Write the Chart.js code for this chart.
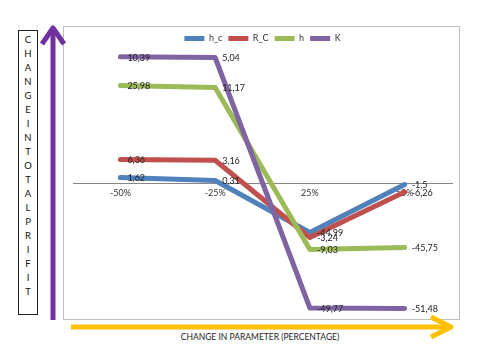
<!DOCTYPE html>
<html>
<head>
<meta charset="utf-8">
<script src="https://cdn.jsdelivr.net/npm/chart.js@4.4.1/dist/chart.umd.min.js"></script>
<style>
  body { margin: 0; background: #fff; }
  #wrap { position: relative; width: 482px; height: 351px; overflow: hidden; font-family: Lato, 'Open Sans', sans-serif; }
  #frame { position: absolute; left: 63px; top: 26px; width: 397px; height: 294px; border: 1px solid #bfbfbf; box-sizing: border-box; }
  #ylab { position: absolute; left: 18px; top: 30px; width: 20px; height: 285px; border: 1px solid #222; box-sizing: border-box; padding-top: 2px; color: #111; }
  #ylab div { width: 8px; margin: 0 auto; font-size: 9.5px; line-height: 14px; text-align: center; word-break: break-all; }
  #xlab { position: absolute; left: 160px; top: 331px; width: 200px; text-align: center; font-size: 8.5px; line-height: 12px; color: #222; }
  canvas, svg { position: absolute; left: 0; top: 0; }
</style>
</head>
<body>
<div id="wrap">
  <div id="frame"></div>
  <div id="ylab"><div>CHANGEINTOTALPRIFIT</div></div>
  <div id="xlab">CHANGE IN PARAMETER (PERCENTAGE)</div>
  <svg width="482" height="351">
    <!-- purple arrow up the left side -->
    <line x1="53" y1="320" x2="53" y2="29" stroke="#7030A0" stroke-width="5"/>
    <polyline points="42,44 53,28 64,44" fill="none" stroke="#7030A0" stroke-width="5" stroke-linejoin="round"/>
    <!-- orange arrow along the bottom -->
    <line x1="71" y1="327" x2="449" y2="327" stroke="#FFC000" stroke-width="5"/>
    <polyline points="431,317 451,327 431,337" fill="none" stroke="#FFC000" stroke-width="5" stroke-linejoin="round"/>
  </svg>
  <canvas id="chart" width="482" height="351"></canvas>
</div>
<script>
// categories and series
const categories = ['-50%', '-25%', '25%', '50%'];
const seriesNames = ['h_c', 'R_C', 'h', 'K'];

// plotted positions
const hcValues = [2.2, 1.0, -19.8, -0.6];
const rcValues = [9.4, 9.1, -21.8, -3.6];
const hValues = [39.0, 38.2, -26.6, -25.8];
const kValues = [50.5, 50.2, -50.0, -50.2];

// data label texts as printed on the chart
const hcLabels = ['1,62', '0,31', '-44,99', '-1,5'];
const rcLabels = ['6,36', '3,16', '-3,24', '-6,26'];
const hLabels = ['25,98', '11,17', '-9,03', '-45,75'];
const kLabels = ['10,39', '5,04', '-49,77', '-51,48'];

const colors = ['#4F81BD', '#C0504D', '#9BBB59', '#8064A2'];
const font = "Lato, 'Open Sans', sans-serif";

function makeSet(i, values, labels) {
  return {
    label: seriesNames[i],
    data: values,
    valueLabels: labels,
    borderColor: colors[i],
    backgroundColor: colors[i],
    borderWidth: 5,
    borderJoinStyle: 'round',
    borderCapStyle: 'round',
    pointRadius: 0,
    pointHoverRadius: 0,
    tension: 0,
    fill: false,
    order: 3 - i // later series on top, like Excel
  };
}

// writes the value labels just right of each point
const valueLabels = {
  id: 'valueLabels',
  afterDatasetsDraw(chart) {
    const ctx = chart.ctx;
    ctx.save();
    ctx.font = '9px ' + font;
    ctx.fillStyle = '#222';
    ctx.textBaseline = 'middle';
    chart.data.datasets.forEach((ds, i) => {
      chart.getDatasetMeta(i).data.forEach((pt, j) => {
        ctx.fillText(ds.valueLabels[j], pt.x + 7, pt.y + 1);
      });
    });
    ctx.restore();
  }
};

new Chart(document.getElementById('chart'), {
  type: 'line',
  data: {
    labels: categories,
    datasets: [
      makeSet(0, hcValues, hcLabels),
      makeSet(1, rcValues, rcLabels),
      makeSet(2, hValues, hLabels),
      makeSet(3, kValues, kLabels)
    ]
  },
  options: {
    responsive: false,
    animation: false,
    devicePixelRatio: 1,
    layout: { padding: { top: 28, left: 73, right: 30, bottom: 33 } },
    plugins: {
      legend: {
        position: 'top',
        labels: {
          usePointStyle: true,
          pointStyle: 'line',
          pointStyleWidth: 20,
          boxHeight: 9,
          padding: 6,
          color: '#333',
          font: { size: 9, family: font },
          sort: (a, b) => a.datasetIndex - b.datasetIndex
        }
      },
      tooltip: { enabled: false }
    },
    scales: {
      x: {
        type: 'category',
        offset: true,
        position: { y: 0 },
        grid: { display: false, drawTicks: false },
        border: { display: true, color: '#868686', width: 1 },
        ticks: { padding: 5, color: '#333', font: { size: 9, family: font }, maxRotation: 0, autoSkip: false }
      },
      y: {
        display: false,
        min: -54,
        max: 52
      }
    }
  },
  plugins: [valueLabels]
});
</script>
</body>
</html>
